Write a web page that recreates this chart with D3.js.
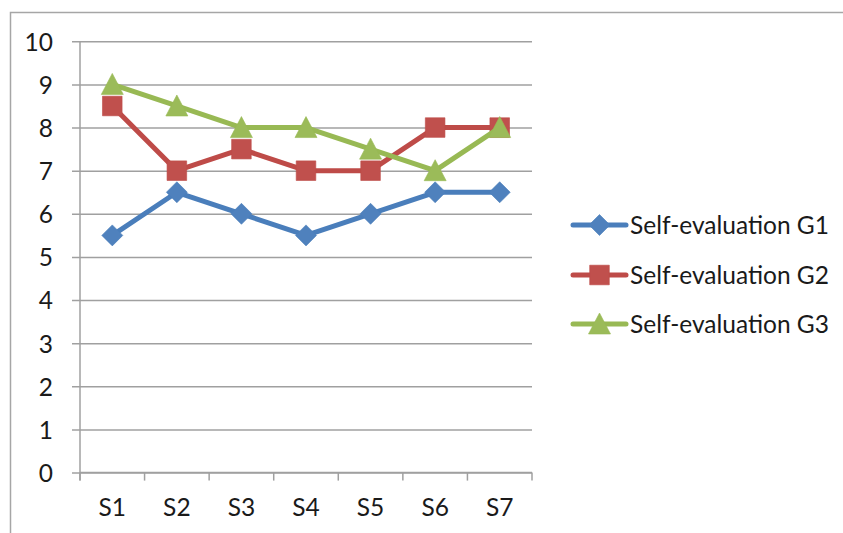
<!DOCTYPE html>
<html>
<head>
<meta charset="utf-8">
<script src="https://cdn.jsdelivr.net/npm/d3@7"></script>
<style>
  html, body { margin: 0; padding: 0; background: #fff; }
  svg { display: block; }
  text { font-family: Lato, "Open Sans", sans-serif; fill: #1a1a1a; }
</style>
</head>
<body>
<svg id="chart" width="843" height="533"></svg>
<script>
const categories = ["S1", "S2", "S3", "S4", "S5", "S6", "S7"];
const seriesNames = ["Self-evaluation G1", "Self-evaluation G2", "Self-evaluation G3"];
const g1Values = [5.5, 6.5, 6, 5.5, 6, 6.5, 6.5];
const g2Values = [8.5, 7, 7.5, 7, 7, 8, 8];
const g3Values = [9, 8.5, 8, 8, 7.5, 7, 8];
const yTicks = [0, 1, 2, 3, 4, 5, 6, 7, 8, 9, 10];

const seriesColors = ["#4A7EBB", "#BE4B48", "#98B954"];
const markerFill = ["#4F81BD", "#C0504D", "#9BBB59"];
const markerTypes = ["diamond", "square", "triangle"];
const seriesValues = [g1Values, g2Values, g3Values];

const svg = d3.select("#chart");
const W = 843, H = 533;
const plot = { left: 80, right: 532, top: 41.3, bottom: 472.6 };
const fontSize = 24.5;

// outer chart border (cropped on right and bottom)
svg.append("rect")
  .attr("x", 10.5).attr("y", 12.5)
  .attr("width", W + 20).attr("height", H + 20)
  .attr("fill", "#fff").attr("stroke", "#a6a6a6").attr("stroke-width", 1.5);

const x = d3.scaleBand().domain(categories).range([plot.left, plot.right]).padding(0);
const y = d3.scaleLinear().domain([0, 10]).range([plot.bottom, plot.top]);

// Y axis with gridlines
const yAxis = d3.axisLeft(y).tickValues(yTicks).tickSize(-(plot.right - plot.left)).tickPadding(0).tickFormat(d3.format("d"));
const yg = svg.append("g").attr("transform", `translate(${plot.left},0)`).call(yAxis);
yg.select(".domain").remove();
yg.selectAll(".tick line")
  .attr("x1", -8)
  .attr("stroke", "#a0a0a0").attr("stroke-width", 1.5);
yg.selectAll(".tick text")
  .attr("x", -27).attr("dy", "0.36em")
  .attr("font-size", fontSize)
  .style("font-family", "Lato, 'Open Sans', sans-serif")
  .attr("fill", "#1a1a1a");

// vertical axis line
svg.append("line")
  .attr("x1", plot.left).attr("x2", plot.left)
  .attr("y1", plot.top).attr("y2", plot.bottom + 8)
  .attr("stroke", "#a0a0a0").attr("stroke-width", 1.5);

// X axis with ticks at band boundaries
const boundaries = categories.map(c => x(c)).concat([x(categories[categories.length - 1]) + x.bandwidth()]);
svg.append("g").selectAll("line").data(boundaries).join("line")
  .attr("x1", d => d).attr("x2", d => d)
  .attr("y1", plot.bottom).attr("y2", plot.bottom + 8)
  .attr("stroke", "#a0a0a0").attr("stroke-width", 1.5);
svg.append("line")
  .attr("x1", plot.left).attr("x2", plot.right)
  .attr("y1", plot.bottom).attr("y2", plot.bottom)
  .attr("stroke", "#a0a0a0").attr("stroke-width", 1.5);
svg.append("g").selectAll("text").data(categories).join("text")
  .attr("x", d => x(d) + x.bandwidth() / 2)
  .attr("y", 516)
  .attr("text-anchor", "middle")
  .attr("font-size", fontSize)
  .text(d => d);

function markerPath(type, cx, cy) {
  if (type === "diamond") {
    const r = 10.5;
    return `M${cx},${cy - r}L${cx + r},${cy}L${cx},${cy + r}L${cx - r},${cy}Z`;
  } else if (type === "square") {
    const r = 9.8;
    return `M${cx - r},${cy - r}H${cx + r}V${cy + r}H${cx - r}Z`;
  } else {
    const h = 20, w = 22;
    return `M${cx},${cy - h / 2 - 1}L${cx + w / 2},${cy + h / 2}L${cx - w / 2},${cy + h / 2}Z`;
  }
}

const line = d3.line().x((d, i) => x(categories[i]) + x.bandwidth() / 2).y(d => y(d));

seriesValues.forEach((vals, si) => {
  const g = svg.append("g");
  g.append("path").datum(vals)
    .attr("d", line)
    .attr("fill", "none")
    .attr("stroke", seriesColors[si])
    .attr("stroke-width", 5)
    .attr("stroke-linejoin", "round")
    .attr("stroke-linecap", "round");
  g.selectAll("path.m").data(vals).join("path").attr("class", "m")
    .attr("d", (d, i) => markerPath(markerTypes[si], x(categories[i]) + x.bandwidth() / 2, y(d)))
    .attr("fill", markerFill[si])
    .attr("stroke", seriesColors[si])
    .attr("stroke-opacity", 0.6)
    .attr("stroke-width", 1);
});

// Legend
const legendY = [225, 275, 324];
const lg = svg.append("g");
seriesNames.forEach((name, si) => {
  const yy = legendY[si];
  lg.append("line")
    .attr("x1", 573).attr("x2", 626)
    .attr("y1", yy).attr("y2", yy)
    .attr("stroke", seriesColors[si]).attr("stroke-width", 5)
    .attr("stroke-linecap", "round");
  lg.append("path")
    .attr("d", markerPath(markerTypes[si], 599.5, yy))
    .attr("fill", markerFill[si])
    .attr("stroke", seriesColors[si]).attr("stroke-opacity", 0.6).attr("stroke-width", 1);
  lg.append("text")
    .attr("x", 630).attr("y", yy)
    .attr("dy", "0.36em")
    .attr("font-size", fontSize)
    .text(name);
});
</script>
</body>
</html>
